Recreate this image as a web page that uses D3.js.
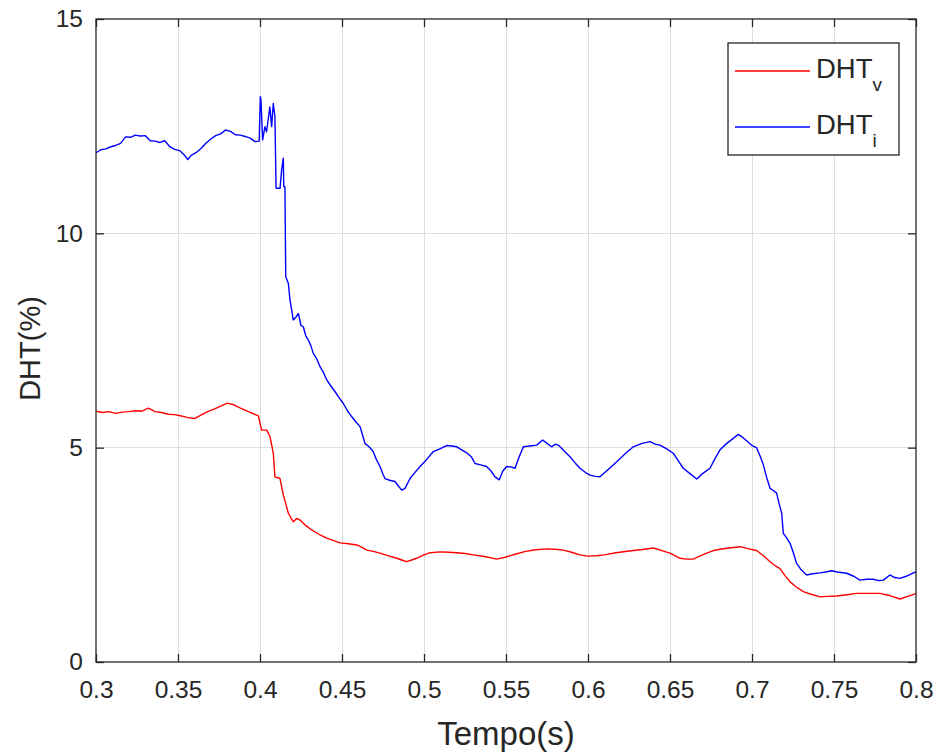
<!DOCTYPE html>
<html>
<head>
<meta charset="utf-8">
<script src="https://cdn.jsdelivr.net/npm/d3@7"></script>
<style>
  html, body { margin: 0; padding: 0; background: #fff; }
  svg { display: block; }
  text { font-family: "Liberation Sans", Arial, Helvetica, sans-serif; fill: #262626; }
</style>
</head>
<body>
<svg id="chart" width="938" height="754"></svg>
<script>
// Tick values
const xTicks = [0.3, 0.35, 0.4, 0.45, 0.5, 0.55, 0.6, 0.65, 0.7, 0.75, 0.8];
const yTicks = [0, 5, 10, 15];

// Current THD (DHT_i), time in seconds and value in percent
const tI = [0.300,0.303,0.306,0.309,0.312,0.315,0.318,0.321,0.324,0.327,0.330,0.333,0.336,0.339,0.342,0.345,0.348,0.351,0.354,0.356,
  0.358,0.361,0.364,0.367,0.370,0.373,0.376,0.379,0.382,0.385,0.388,0.391,0.394,0.397,0.3995,0.4002,0.4006,0.4016,0.4030,0.4040,
  0.4060,0.4071,0.4081,0.4091,0.4098,0.4122,0.4132,0.4142,0.4145,0.4152,0.4157,0.4173,0.4183,0.4203,0.4220,0.4234,0.4250,0.4264,0.4280,0.4295,
  0.4310,0.4325,0.4345,0.4366,0.4385,0.4407,0.4430,0.4457,0.4480,0.4508,0.4535,0.4560,0.4585,0.4610,0.4625,0.4640,0.4665,0.4690,0.4710,0.4732,
  0.4750,0.4762,0.4790,0.4823,0.4845,0.4864,0.4884,0.4915,0.4940,0.4976,0.5015,0.5057,0.5100,0.5138,0.5170,0.5200,0.5230,0.5260,0.5290,0.5311,
  0.5345,0.5382,0.5410,0.5433,0.5459,0.5480,0.5504,0.5530,0.5555,0.5580,0.5606,0.5645,0.5687,0.5724,0.5750,0.5778,0.5800,0.5819,0.5855,0.5890,
  0.5920,0.5951,0.5985,0.6012,0.6045,0.6073,0.6120,0.6175,0.6225,0.6276,0.6330,0.6378,0.6410,0.6439,0.6480,0.6520,0.6550,0.6581,0.6620,0.6663,
  0.6700,0.6744,0.6775,0.6805,0.6846,0.6880,0.6916,0.6940,0.6967,0.7000,0.7028,0.7050,0.7069,0.7090,0.7110,0.7130,0.7150,0.7165,0.7181,0.7191,
  0.7210,0.7232,0.7252,0.7272,0.7300,0.7333,0.7370,0.7415,0.7450,0.7486,0.7520,0.7577,0.7620,0.7659,0.7700,0.7740,0.7770,0.7801,0.7841,0.7870,
  0.7902,0.7940,0.7984,0.8000];
const dhtI = [11.88,11.95,11.97,12.02,12.05,12.10,12.25,12.24,12.29,12.27,12.28,12.16,12.15,12.12,12.16,12.02,11.96,11.93,11.82,11.72,
  11.82,11.88,11.98,12.10,12.20,12.28,12.32,12.41,12.38,12.30,12.29,12.26,12.22,12.14,12.15,13.19,13.10,12.18,12.49,12.37,
  12.95,12.49,13.03,12.72,11.05,11.05,11.48,11.75,11.09,11.09,8.99,8.83,8.44,7.98,8.05,8.13,7.85,7.82,7.60,7.51,
  7.38,7.20,7.08,6.89,6.77,6.58,6.45,6.31,6.18,6.03,5.85,5.72,5.60,5.49,5.30,5.10,5.02,4.91,4.72,4.56,
  4.38,4.28,4.24,4.21,4.10,4.01,4.05,4.28,4.40,4.56,4.72,4.91,4.98,5.05,5.04,5.02,4.95,4.88,4.78,4.63,
  4.60,4.56,4.45,4.32,4.25,4.45,4.56,4.55,4.52,4.78,5.02,5.04,5.06,5.18,5.10,5.02,5.08,5.06,4.92,4.79,
  4.65,4.52,4.42,4.36,4.33,4.32,4.48,4.67,4.85,5.02,5.10,5.14,5.08,5.06,4.97,4.87,4.70,4.52,4.40,4.27,
  4.40,4.52,4.75,4.95,5.10,5.20,5.31,5.25,5.16,5.05,5.00,4.80,4.60,4.30,4.05,4.00,3.94,3.70,3.47,3.00,
  2.90,2.77,2.55,2.30,2.15,2.03,2.06,2.08,2.10,2.13,2.10,2.07,2.00,1.91,1.93,1.93,1.90,1.91,2.03,1.97,
  1.95,2.00,2.08,2.10];

// Voltage THD (DHT_v), time in seconds and value in percent
const tV = [0.300,0.304,0.308,0.312,0.316,0.320,0.324,0.328,0.332,0.336,0.340,0.344,0.348,0.352,0.356,0.360,0.364,0.368,0.372,0.376,
  0.380,0.384,0.3878,0.3919,0.3955,0.3990,0.4010,0.4041,0.4061,0.4081,0.4091,0.4122,0.4142,0.4173,0.4203,0.4224,0.4244,0.4280,0.4315,0.4360,
  0.4407,0.4450,0.4488,0.4540,0.4590,0.4620,0.4651,0.4690,0.4732,0.4780,0.4834,0.4865,0.4894,0.4925,0.4955,0.5000,0.5037,0.5098,0.5150,0.5199,
  0.5250,0.5301,0.5370,0.5443,0.5500,0.5560,0.5620,0.5680,0.5750,0.5800,0.5850,0.5900,0.5950,0.6000,0.6050,0.6100,0.6170,0.6250,0.6320,0.6400,
  0.6450,0.6500,0.6561,0.6600,0.6642,0.6680,0.6724,0.6765,0.6805,0.6860,0.6927,0.6980,0.7028,0.7070,0.7110,0.7140,0.7171,0.7200,0.7232,0.7270,
  0.7313,0.7360,0.7415,0.7460,0.7516,0.7580,0.7638,0.7710,0.7780,0.7840,0.7902,0.7950,0.7994,0.8000];
const dhtV = [5.85,5.82,5.84,5.80,5.83,5.84,5.86,5.85,5.92,5.84,5.82,5.78,5.77,5.74,5.70,5.68,5.76,5.84,5.90,5.97,
  6.04,6.00,5.93,5.86,5.80,5.74,5.41,5.41,5.26,4.87,4.32,4.28,3.90,3.47,3.27,3.35,3.31,3.18,3.08,2.98,
  2.89,2.83,2.78,2.76,2.73,2.68,2.61,2.58,2.54,2.48,2.42,2.38,2.34,2.38,2.42,2.50,2.55,2.57,2.56,2.55,
  2.53,2.50,2.46,2.40,2.45,2.52,2.58,2.62,2.64,2.63,2.61,2.56,2.50,2.47,2.48,2.50,2.55,2.59,2.62,2.66,
  2.60,2.54,2.42,2.40,2.40,2.47,2.54,2.60,2.63,2.66,2.69,2.64,2.60,2.48,2.34,2.25,2.18,2.02,1.87,1.75,
  1.64,1.58,1.52,1.53,1.54,1.57,1.60,1.60,1.60,1.55,1.47,1.53,1.59,1.60];

const seriesNames = ["DHT", "DHT"];
const seriesSubs = ["v", "i"];
const seriesColors = ["#ff0000", "#0000ff"];

(function draw() {
  const svg = d3.select("#chart");
  const pL = 96, pT = 19, pR = 916, pB = 662;

  const x = d3.scaleLinear().domain([0.3, 0.8]).range([pL, pR]);
  const y = d3.scaleLinear().domain([0, 15]).range([pB, pT]);

  const axisColor = "#262626";
  const gridColor = "#dedede";

  // grid
  const grid = svg.append("g");
  grid.selectAll("line.gx").data(xTicks.slice(1, -1)).join("line")
    .attr("x1", d => x(d)).attr("x2", d => x(d)).attr("y1", pT).attr("y2", pB)
    .attr("stroke", gridColor).attr("stroke-width", 1).attr("shape-rendering", "crispEdges");
  grid.selectAll("line.gy").data(yTicks.slice(1, -1)).join("line")
    .attr("x1", pL).attr("x2", pR).attr("y1", d => y(d)).attr("y2", d => y(d))
    .attr("stroke", gridColor).attr("stroke-width", 1).attr("shape-rendering", "crispEdges");

  // data lines
  const lineGen = d3.line().x(d => x(d[0])).y(d => y(d[1]));
  const vData = tV.map((t, i) => [t, dhtV[i]]);
  const iData = tI.map((t, i) => [t, dhtI[i]]);
  const plot = svg.append("g");
  plot.append("path").datum(vData).attr("d", lineGen)
    .attr("fill", "none").attr("stroke", seriesColors[0]).attr("stroke-width", 1.4).attr("stroke-linejoin", "round");
  plot.append("path").datum(iData).attr("d", lineGen)
    .attr("fill", "none").attr("stroke", seriesColors[1]).attr("stroke-width", 1.4).attr("stroke-linejoin", "round");

  // axes with inward ticks
  const tickLen = 8;
  const xAxis = d3.axisBottom(x).tickValues(xTicks).tickSize(-tickLen).tickPadding(19)
    .tickFormat(d => d3.format("~g")(d));
  const yAxis = d3.axisLeft(y).tickValues(yTicks).tickSize(-tickLen).tickPadding(13)
    .tickFormat(d3.format("d"));
  const xTop = d3.axisTop(x).tickValues(xTicks).tickSize(-tickLen).tickFormat("");
  const yRight = d3.axisRight(y).tickValues(yTicks).tickSize(-tickLen).tickFormat("");

  function styleAxis(g) {
    g.select(".domain").remove();
    g.selectAll(".tick line").attr("stroke", axisColor).attr("stroke-width", 1.3);
    g.selectAll(".tick text").attr("fill", "#333").style("font-size", "24.5px")
      .style("font-family", "'Liberation Sans', Arial, Helvetica, sans-serif");
  }
  svg.append("g").attr("transform", `translate(0,${pB})`).call(xAxis).call(styleAxis);
  svg.append("g").attr("transform", `translate(${pL},0)`).call(yAxis).call(styleAxis);
  svg.append("g").attr("transform", `translate(0,${pT})`).call(xTop).call(styleAxis);
  svg.append("g").attr("transform", `translate(${pR},0)`).call(yRight).call(styleAxis);
  svg.append("rect").attr("x", pL).attr("y", pT).attr("width", pR - pL).attr("height", pB - pT)
    .attr("fill", "none").attr("stroke", axisColor).attr("stroke-width", 1.3);

  // axis titles
  svg.append("text").attr("x", (pL + pR) / 2).attr("y", 745).attr("text-anchor", "middle")
    .style("font-size", "33px").text("Tempo(s)");
  svg.append("text").attr("transform", `translate(40,${(pT + pB) / 2 + 8}) rotate(-90)`)
    .attr("text-anchor", "middle").style("font-size", "29px").text("DHT(%)");

  // legend
  const lg = svg.append("g");
  lg.append("rect").attr("x", 728).attr("y", 43).attr("width", 171).attr("height", 112)
    .attr("fill", "#fff").attr("stroke", axisColor).attr("stroke-width", 1.3);
  const rowsY = [71, 127];
  seriesNames.forEach((name, k) => {
    lg.append("line").attr("x1", 735).attr("x2", 810).attr("y1", rowsY[k]).attr("y2", rowsY[k])
      .attr("stroke", seriesColors[k]).attr("stroke-width", 1.3);
    const t = lg.append("text").attr("x", 816).attr("y", rowsY[k] + 7).style("font-size", "27.5px").attr("fill", "#000");
    t.append("tspan").text(name);
    t.append("tspan").attr("dy", 13).style("font-size", "19px").text(seriesSubs[k]);
  });
})();
</script>
</body>
</html>
